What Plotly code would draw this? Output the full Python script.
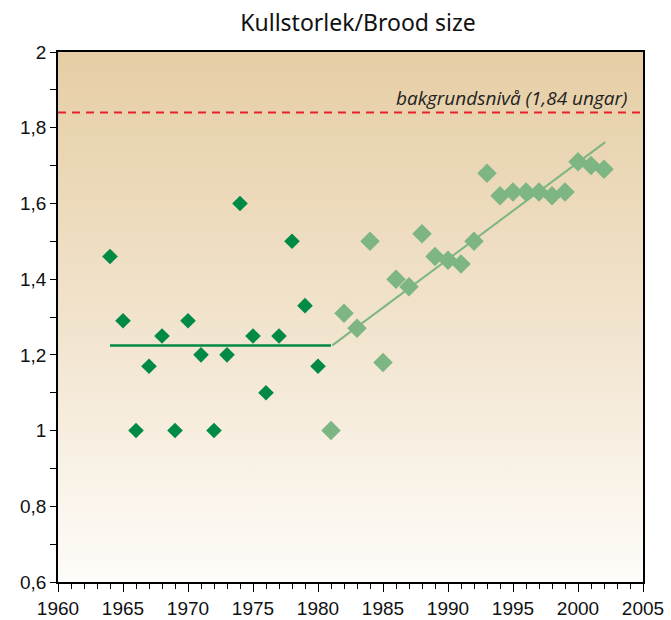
import plotly.graph_objects as go

# Data
years_early = [1964, 1965, 1966, 1967, 1968, 1969, 1970, 1971, 1972, 1973,
               1974, 1975, 1976, 1977, 1978, 1979, 1980]
size_early = [1.46, 1.29, 1.00, 1.17, 1.25, 1.00, 1.29, 1.20, 1.00, 1.20,
              1.60, 1.25, 1.10, 1.25, 1.50, 1.33, 1.17]

years_late = [1981, 1982, 1983, 1984, 1985, 1986, 1987, 1988, 1989, 1990,
              1991, 1992, 1993, 1994, 1995, 1996, 1997, 1998, 1999, 2000,
              2001, 2002]
size_late = [1.00, 1.31, 1.27, 1.50, 1.18, 1.40, 1.38, 1.52, 1.46, 1.45,
             1.44, 1.50, 1.68, 1.62, 1.63, 1.63, 1.63, 1.62, 1.63, 1.71,
             1.70, 1.69]

mean_x = [1964, 1981]
mean_y = [1.225, 1.225]
trend_x = [1981.1, 2002.1]
trend_y = [1.225, 1.762]

background_level = 1.84
background_label = "bakgrundsnivå (1,84 ungar)"
title_text = "Kullstorlek/Brood size"

x_range = [1960, 2005]
y_range = [0.6, 2.0]
x_tickvals = list(range(1960, 2006, 5))
y_tickvals = [0.6, 0.8, 1.0, 1.2, 1.4, 1.6, 1.8, 2.0]
y_ticktext = ["0,6", "0,8", "1", "1,2", "1,4", "1,6", "1,8", "2"]

DARK = "#008A45"
LIGHT = "#7DB583"
FONT = "Liberation Sans, Arial"

fig = go.Figure()

# gradient background
fig.add_trace(go.Scatter(
    x=[x_range[0], x_range[1], x_range[1], x_range[0], x_range[0]],
    y=[y_range[0], y_range[0], y_range[1], y_range[1], y_range[0]],
    mode="lines", line=dict(width=0), fill="toself",
    fillgradient=dict(type="vertical",
                      colorscale=[[0, "#FEFCF9"], [0.5, "#F1E3CC"], [1, "#E6CEA5"]]),
    hoverinfo="skip", showlegend=False))

fig.add_trace(go.Scatter(x=mean_x, y=mean_y, mode="lines",
                         line=dict(color=DARK, width=2.5), showlegend=False))
fig.add_trace(go.Scatter(x=trend_x, y=trend_y, mode="lines",
                         line=dict(color=LIGHT, width=2), showlegend=False))
fig.add_trace(go.Scatter(x=years_early, y=size_early, mode="markers",
                         marker=dict(symbol="diamond", size=12, color=DARK),
                         showlegend=False))
fig.add_trace(go.Scatter(x=years_late, y=size_late, mode="markers",
                         marker=dict(symbol="diamond", size=15, color=LIGHT),
                         showlegend=False))

fig.add_shape(type="line", xref="x", yref="y", x0=x_range[0], x1=x_range[1],
              y0=background_level, y1=background_level,
              line=dict(color="#E8202A", width=2, dash="8px,6px"))

fig.add_annotation(x=2003.9, y=background_level, xanchor="right", yanchor="bottom",
                   yshift=0, text=f"<i>{background_label}</i>", showarrow=False,
                   font=dict(family="Open Sans, Noto Sans", size=19, color="#222222"))

fig.update_layout(
    width=671, height=620,
    margin=dict(l=58, r=28, t=52, b=38, autoexpand=False),
    paper_bgcolor="white", plot_bgcolor="white",
    title=dict(text=title_text, x=358 / 671, xanchor="center",
               y=1 - 23 / 620, yanchor="middle",
               font=dict(family="Noto Sans, Open Sans", size=23, color="#111111")),
    font=dict(family=FONT, size=19, color="#111111"),
)
fig.update_xaxes(range=x_range, tickvals=x_tickvals, ticks="outside", ticklen=8,
                 tickwidth=1.3, tickcolor="black", showgrid=False, zeroline=False,
                 automargin=False,
                 showline=True, linecolor="black", linewidth=1.5, mirror=True,
                 minor=dict(dtick=1, ticks="outside", ticklen=5, tickcolor="black",
                            tickwidth=1.2, showgrid=False),
                 tickfont=dict(family=FONT, size=19))
fig.update_yaxes(range=y_range, tickvals=y_tickvals, ticktext=y_ticktext,
                 ticks="outside", ticklen=6, tickwidth=1.3, tickcolor="black",
                 showgrid=False, zeroline=False, automargin=False,
                 showline=True, linecolor="black", linewidth=1.5, mirror=True,
                 minor=dict(tickvals=[0.7, 0.9, 1.1, 1.3, 1.5, 1.7, 1.9],
                            ticks="outside", ticklen=6, tickcolor="black",
                            tickwidth=1.2, showgrid=False),
                 tickfont=dict(family=FONT, size=19))

fig.write_html("out.html", config={"displayModeBar": False},
               post_script="document.body.style.margin='0px';document.body.style.overflow='hidden';")
